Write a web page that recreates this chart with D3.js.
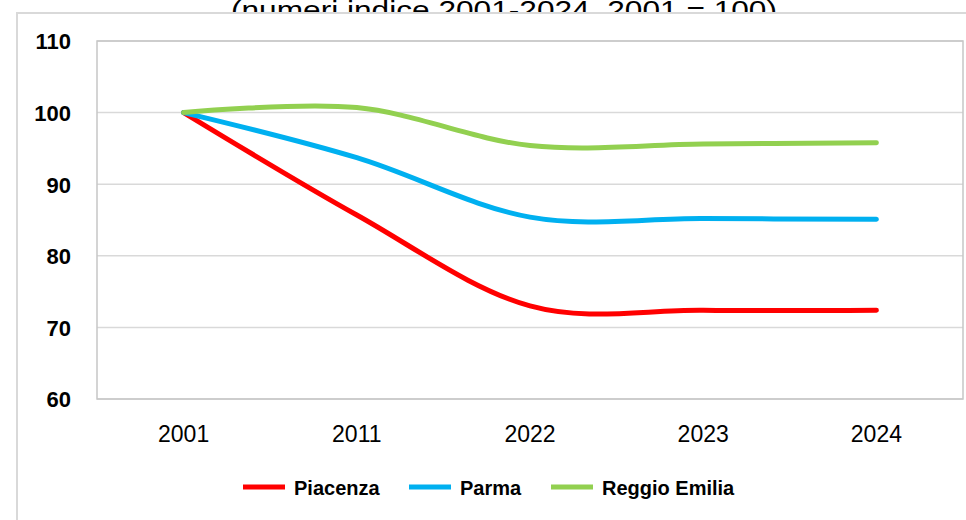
<!DOCTYPE html>
<html>
<head>
<meta charset="utf-8">
<script src="https://cdn.jsdelivr.net/npm/d3@7"></script>
<style>
  html, body { margin: 0; padding: 0; background: #fff; overflow: hidden; }
  svg { display: block; }
</style>
</head>
<body>
<svg id="chart" width="966" height="520"></svg>
<script>
// ---- data ----
const title = "(numeri indice 2001-2024, 2001 = 100)";
const categories = ["2001", "2011", "2022", "2023", "2024"];
const seriesNames = ["Piacenza", "Parma", "Reggio Emilia"];
const piacenza = [100, 85.7, 73.0, 72.4, 72.4];
const parma = [100, 93.7, 85.4, 85.2, 85.1];
const reggioEmilia = [100, 100.7, 95.4, 95.6, 95.8];
const yTicks = [60, 70, 80, 90, 100, 110];
const colors = ["#ff0000", "#00b0f0", "#92d050"];

const seriesValues = [piacenza, parma, reggioEmilia];

const svg = d3.select("#chart");
const font = "'Liberation Sans', Arial, sans-serif";

// title (partly hidden behind the chart box)
svg.append("text")
  .attr("x", 504).attr("y", 19)
  .attr("text-anchor", "middle")
  .attr("font-family", font).attr("font-size", 26)
  .attr("textLength", 546).attr("lengthAdjust", "spacingAndGlyphs")
  .attr("fill", "#000")
  .text(title);

// chart box
svg.append("rect")
  .attr("x", 17).attr("y", 13).attr("width", 980).attr("height", 540)
  .attr("fill", "#fff").attr("stroke", "#d9d9d9").attr("stroke-width", 2);

const plot = { left: 97, right: 963, top: 41, bottom: 399 };

const x = d3.scaleBand().domain(categories).range([plot.left, plot.right]);
const y = d3.scaleLinear().domain([60, 110]).range([plot.bottom, plot.top]);

// gridlines
svg.append("g").selectAll("line").data(yTicks).join("line")
  .attr("x1", plot.left).attr("x2", plot.right)
  .attr("y1", d => y(d)).attr("y2", d => y(d))
  .attr("stroke", "#d9d9d9").attr("stroke-width", 1.5);

// plot border
svg.append("rect")
  .attr("x", plot.left).attr("y", plot.top)
  .attr("width", plot.right - plot.left).attr("height", plot.bottom - plot.top)
  .attr("fill", "none").attr("stroke", "#c6c6c6").attr("stroke-width", 1.5);

// y axis labels
const yAxis = d3.axisLeft(y).tickValues(yTicks).tickSize(0).tickPadding(0).tickFormat(d3.format("d"));
const gy = svg.append("g").attr("transform", `translate(71,0)`).call(yAxis);
gy.select(".domain").remove();
gy.selectAll("text")
  .attr("font-family", font).attr("font-size", 22).attr("font-weight", "bold")
  .attr("fill", "#000").attr("dy", "0.36em");

// x axis labels
const xAxis = d3.axisBottom(x).tickSize(0).tickPadding(0);
const gx = svg.append("g").attr("transform", `translate(0,${plot.bottom})`).call(xAxis);
gx.select(".domain").remove();
gx.selectAll("text")
  .attr("font-family", font).attr("font-size", 23)
  .attr("fill", "#000").attr("dy", null).attr("y", 43);

// lines
const line = d3.line()
  .x((d, i) => x(categories[i]) + x.bandwidth() / 2)
  .y(d => y(d))
  .curve(d3.curveCardinal.tension(0));

svg.append("g").selectAll("path").data(seriesValues).join("path")
  .attr("d", d => line(d))
  .attr("fill", "none")
  .attr("stroke", (d, i) => colors[i])
  .attr("stroke-width", 5)
  .attr("stroke-linecap", "round")
  .attr("stroke-linejoin", "round");

// legend
const legendX = [243, 409, 551];
const lg = svg.append("g").selectAll("g").data(seriesNames).join("g")
  .attr("transform", (d, i) => `translate(${legendX[i]},487)`);
lg.append("line")
  .attr("x1", 0).attr("x2", 42).attr("y1", 0).attr("y2", 0)
  .attr("stroke", (d, i) => colors[i]).attr("stroke-width", 5);
lg.append("text")
  .attr("x", 51).attr("y", 8)
  .attr("font-family", font).attr("font-size", 20).attr("font-weight", "bold")
  .attr("fill", "#000")
  .text(d => d);
</script>
</body>
</html>
